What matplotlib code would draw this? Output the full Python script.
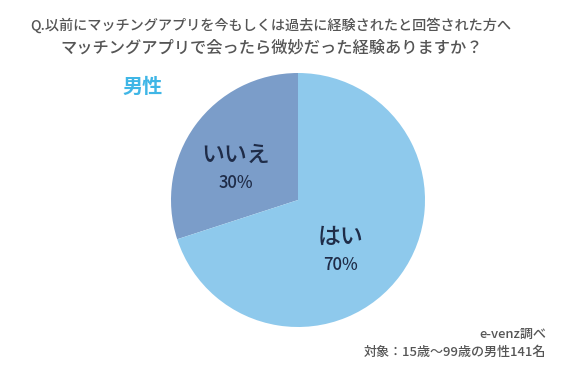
import matplotlib
matplotlib.use("Agg")
import matplotlib.pyplot as plt

plt.rcParams['font.family'] = ['Noto Sans CJK JP', 'DejaVu Sans']

# データ
labels = ['いいえ', 'はい']
values = [30, 70]
colors = ['#7b9dc9', '#8ec9ec']

title1 = 'Q.以前にマッチングアプリを今もしくは過去に経験されたと回答された方へ'
title2 = 'マッチングアプリで会ったら微妙だった経験ありますか？'
group = '男性'
source = 'e-venz調べ'
note = '対象：15歳〜99歳の男性141名'

W, H = 567, 382
fig = plt.figure(figsize=(W / 100, H / 100), dpi=100)
ax = fig.add_axes([0, 0, 1, 1])

# 円グラフ（上から反時計回りに「いいえ」）
cx, cy, r = 298, H - 200, 127
ax.pie(values, colors=colors, startangle=90, counterclock=True,
       center=(cx, cy), radius=r, frame=True)
ax.set_xlim(0, W)
ax.set_ylim(0, H)
ax.set_aspect('equal')
ax.axis('off')

# ラベル
label_pos = {'いいえ': (236, H - 155), 'はい': (340, H - 237)}
for lab, v in zip(labels, values):
    x, y = label_pos[lab]
    ax.text(x, y, lab, ha='center', va='center', fontsize=16.5,
            fontweight='medium', color='#1f2c48')
    ax.text(x, y - 28, f'{v}%', ha='center', va='center', fontsize=12,
            fontweight='medium', color='#1f2c48')

ax.text(271, H - 25, title1, ha='center', va='center', fontsize=10.2,
        fontweight='medium', color='#555555')
ax.text(272, H - 48, title2, ha='center', va='center', fontsize=11.7,
        fontweight='medium', color='#555555')
ax.text(143, H - 86, group, ha='center', va='center', fontsize=14.5,
        fontweight='bold', color='#3fb6e6')
ax.text(546, H - 334, source, ha='right', va='center', fontsize=9.4,
        fontweight='medium', color='#555555')
ax.text(546, H - 352, note, ha='right', va='center', fontsize=9.4,
        fontweight='medium', color='#555555')

fig.savefig('out.png', dpi=100, facecolor='white')
